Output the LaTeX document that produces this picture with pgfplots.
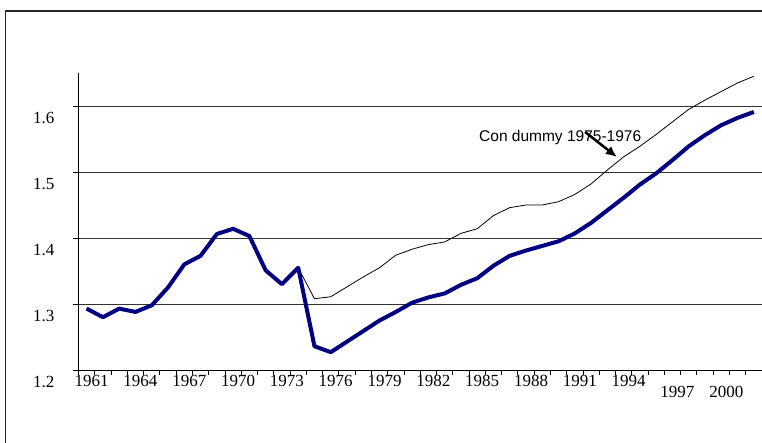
\documentclass[border=0pt]{standalone}
\usepackage{pgfplots}
\pgfplotsset{compat=1.18}
\usepackage{pgfplotstable}
\usetikzlibrary{arrows.meta}
\usepackage{fontspec}
\setmainfont{Liberation Serif}
\newfontfamily\arial{Liberation Sans}
\definecolor{navyline}{RGB}{0,0,128}

\pgfplotstableread{
year base dummy
1961 1.293 1.293
1962 1.280 1.280
1963 1.293 1.293
1964 1.288 1.288
1965 1.298 1.298
1966 1.325 1.325
1967 1.360 1.360
1968 1.373 1.373
1969 1.406 1.406
1970 1.414 1.414
1971 1.403 1.403
1972 1.351 1.351
1973 1.330 1.330
1974 1.355 1.355
1975 1.236 1.308
1976 1.227 1.311
1977 1.243 1.326
1978 1.259 1.341
1979 1.275 1.355
1980 1.288 1.374
1981 1.302 1.383
1982 1.310 1.390
1983 1.316 1.394
1984 1.329 1.407
1985 1.339 1.414
1986 1.358 1.434
1987 1.373 1.446
1988 1.381 1.450
1989 1.388 1.450
1990 1.395 1.455
1991 1.407 1.466
1992 1.423 1.482
1993 1.442 1.503
1994 1.461 1.523
1995 1.481 1.539
1996 1.498 1.557
1997 1.518 1.576
1998 1.539 1.595
1999 1.556 1.609
2000 1.571 1.622
2001 1.582 1.635
2002 1.591 1.645
}\data

\begin{document}
\begin{tikzpicture}
\useasboundingbox (0,0) rectangle (762bp,443bp);
\draw[line width=1.2bp, black!85] (5.7bp,0) -- (5.7bp,432bp) -- (762bp,432bp);
\begin{axis}[
  at={(78.5bp,73bp)}, anchor=south west,
  scale only axis, width=683.5bp, height=297bp,
  xmin=1960.5, xmax=2002.5, ymin=1.2, ymax=1.65,
  axis lines*=left,
  axis line style={-, black, line width=0.8bp},
  every outer x axis line/.append style={-},
  every outer y axis line/.append style={-},
  tick align=outside,
  ytick={1.2,1.3,1.4,1.5,1.6},
  yticklabels={1.2,1.3,1.4,1.5,1.6},
  minor ytick={1.2,1.3,1.4,1.5,1.6},
  ymajorgrids,
  grid style={black!80, line width=0.8bp},
  major tick length=0pt,
  minor tick length=5.5bp,
  tick style={black, line width=0.8bp},
  xtick={1961,1964,...,1994},
  xticklabels={1961,1964,1967,1970,1973,1976,1979,1982,1985,1988,1991,1994},
  minor xtick={1960.5,1961.5,...,2002.5},
  extra x ticks={1997,2000},
  extra x tick labels={1997,2000},
  extra x tick style={xticklabel style={yshift=-11bp}},
  /pgf/number format/assume math mode=true,
  tick label style={font=\fontsize{17bp}{20bp}\selectfont},
  xticklabel style={anchor=north, inner sep=0pt, yshift=-5bp, xshift=5bp},
  yticklabel style={anchor=east, inner sep=0pt, xshift=-24bp, yshift=-12bp},
  clip=false,
]
\addplot[black, line width=0.8bp] table[x=year, y=dummy] {\data};
\addplot[navyline, line width=4bp, line join=round] table[x=year, y=base] {\data};
\node[font=\arial\fontsize{15.5bp}{18bp}\selectfont, inner sep=0pt] at (axis cs:1990.1,1.553) {Con dummy 1975-1976};
\draw[-{Latex[length=11bp,width=10bp]}, line width=2.5bp] (axis cs:1991.63,1.5606) -- (axis cs:1993.58,1.5228);
\end{axis}
\end{tikzpicture}
\end{document}
